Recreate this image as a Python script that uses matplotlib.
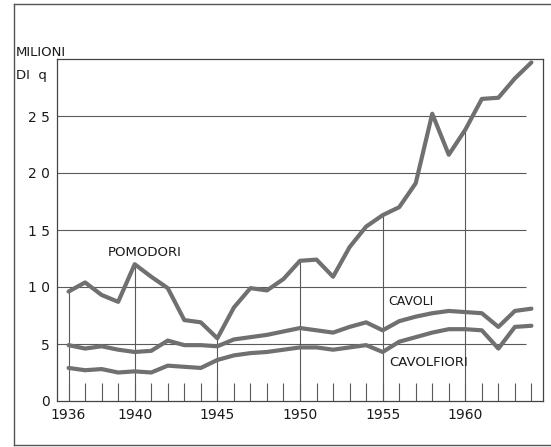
import matplotlib
matplotlib.use("Agg")
import matplotlib.pyplot as plt
from matplotlib.lines import Line2D

years = list(range(1936, 1965))
pomodori = [9.6, 10.4, 9.3, 8.7, 12.0, 10.9, 9.9, 7.1, 6.9, 5.5, 8.2, 9.9, 9.7, 10.7,
            12.3, 12.4, 10.9, 13.5, 15.3, 16.3, 17.0, 19.1, 25.2, 21.6, 23.8, 26.5,
            26.6, 28.3, 29.7]
cavoli = [4.9, 4.6, 4.8, 4.5, 4.3, 4.4, 5.3, 4.9, 4.9, 4.8, 5.4, 5.6, 5.8, 6.1, 6.4,
          6.2, 6.0, 6.5, 6.9, 6.2, 7.0, 7.4, 7.7, 7.9, 7.8, 7.7, 6.5, 7.9, 8.1]
cavolfiori = [2.9, 2.7, 2.8, 2.5, 2.6, 2.5, 3.1, 3.0, 2.9, 3.6, 4.0, 4.2, 4.3, 4.5,
              4.7, 4.7, 4.5, 4.7, 4.9, 4.3, 5.2, 5.6, 6.0, 6.3, 6.3, 6.2, 4.6, 6.5, 6.6]
x_ticks = [1936, 1940, 1945, 1950, 1955, 1960]
y_ticks = [0, 5, 10, 15, 20, 25]
y_labels = ["0", "5", "1 0", "1 5", "2 0", "2 5"]

fig = plt.figure(figsize=(5.51, 4.47), dpi=100)
ax = fig.add_axes([57/551, 1 - 401/447, (543-57)/551, (401-59)/447])
ax.set_xlim(1935.3, 1964.7)
ax.set_ylim(0, 30)

grid_c = "#5a5a5a"
line_c = "#707070"
txt_c = "#1a1a1a"

# horizontal gridlines
ax.hlines(y_ticks[1:], 1935.3, 1963.7, color=grid_c, lw=0.8)
# vertical gridlines up to the tomato curve
for yr in x_ticks:
    ax.vlines(yr, 0, pomodori[years.index(yr)], color=grid_c, lw=0.8)
# small yearly ticks
ax.vlines(years, 0, 1.6, color=grid_c, lw=0.8)

for s in (pomodori, cavoli, cavolfiori):
    ax.plot(years, s, color=line_c, lw=3.0, solid_capstyle="round",
            solid_joinstyle="round")

for sp in ax.spines.values():
    sp.set_color("#444444")
    sp.set_linewidth(0.9)

ax.set_xticks(x_ticks)
ax.set_xticklabels([str(y) for y in x_ticks], fontsize=10)
ax.set_yticks(y_ticks)
ax.set_yticklabels(y_labels, fontsize=10)
ax.tick_params(length=0, pad=5, colors=txt_c)

ax.text(1940.6, 13.0, "POMODORI", fontsize=9.5, ha="center", va="center", color=txt_c)
ax.text(1956.7, 8.7, "CAVOLI", fontsize=9, ha="center", va="center", color=txt_c)
ax.text(1957.8, 3.4, "CAVOLFIORI", fontsize=9.5, ha="center", va="center", color=txt_c)

fig.text(16/551, 1 - 52/447, "MILIONI", fontsize=9.5, ha="left", va="center", color=txt_c)
fig.text(16/551, 1 - 75/447, "DI  q", fontsize=9.5, ha="left", va="center", color=txt_c)

# outer frame
fc = "#555555"
fig.add_artist(Line2D([14/551, 14/551], [1 - 4/447, 1 - 445/447], transform=fig.transFigure, color=fc, lw=1.0))
fig.add_artist(Line2D([14/551, 1.0], [1 - 4/447, 1 - 4/447], transform=fig.transFigure, color=fc, lw=1.0))
fig.add_artist(Line2D([14/551, 1.0], [1 - 445/447, 1 - 445/447], transform=fig.transFigure, color=fc, lw=1.0))

fig.savefig("out.png", dpi=100)
